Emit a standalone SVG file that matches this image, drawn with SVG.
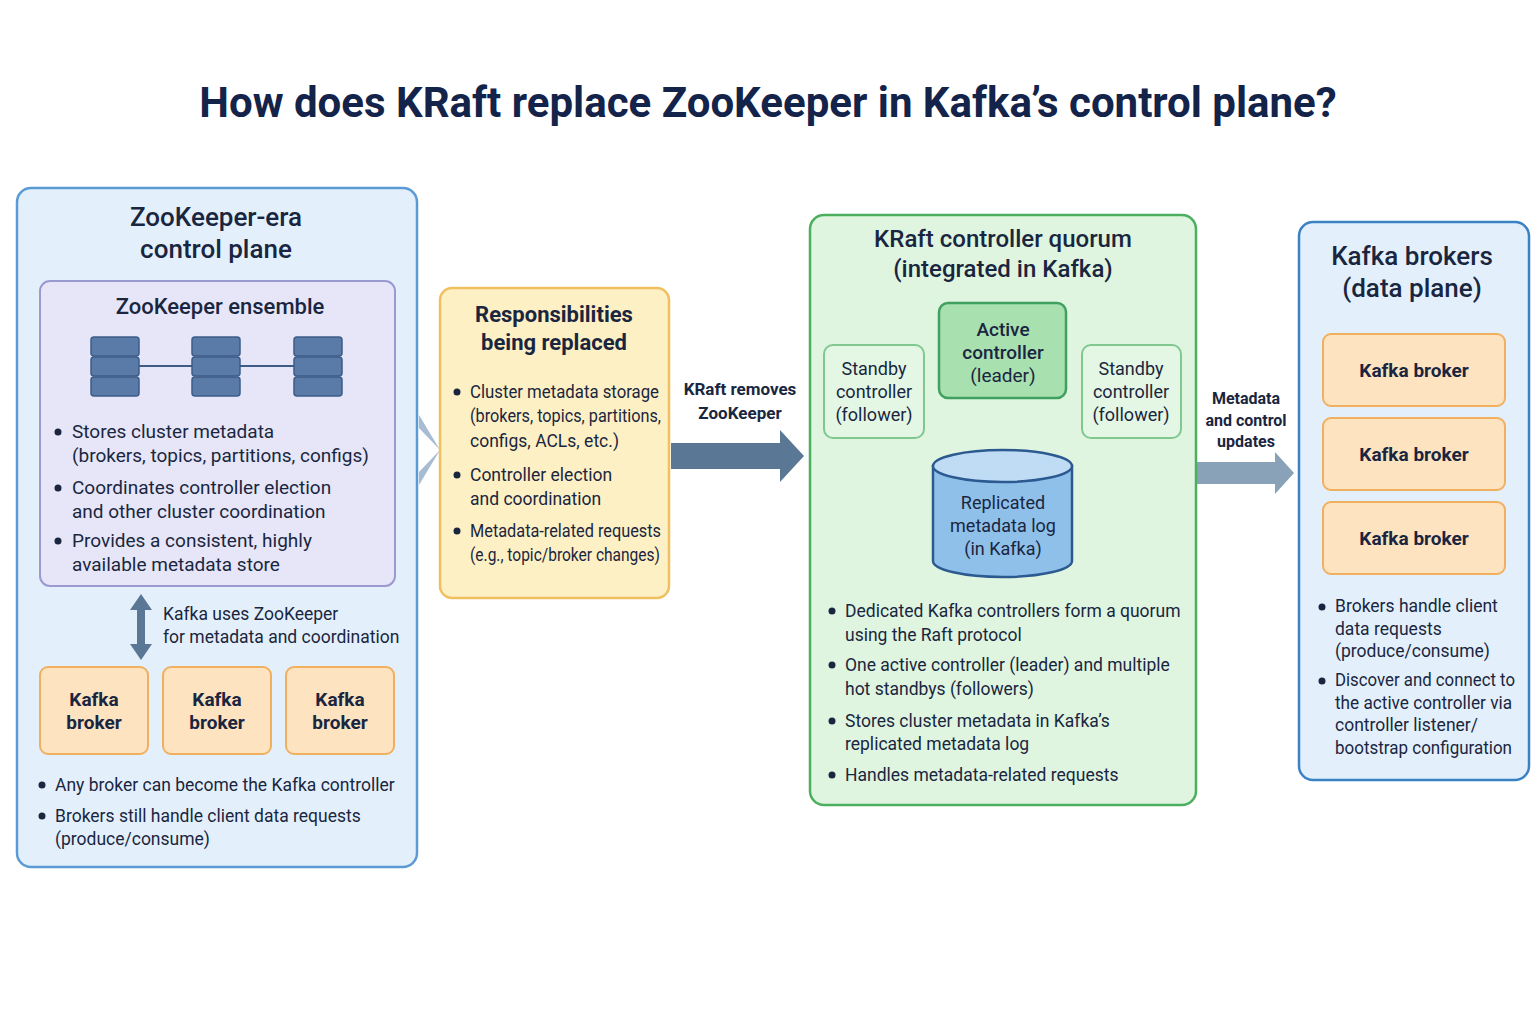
<svg xmlns="http://www.w3.org/2000/svg" width="1536" height="1024" viewBox="0 0 1536 1024">
<style>
text{font-family:Roboto,"Liberation Sans",sans-serif;fill:#1a2640}
.t{font-size:42px;font-weight:700;fill:#13234a}
.h{font-size:26px;font-weight:500;text-anchor:middle}
.b{font-size:19px}
.s{font-size:17.5px}
.bb{font-size:19px;font-weight:700;text-anchor:middle}
.c{font-size:19px;text-anchor:middle}
.al{font-size:17px;font-weight:700;text-anchor:middle}
.brk{fill:#fde3c0;stroke:#f0b060;stroke-width:2}
.srv{fill:#5a7ba8;stroke:#3d5c88;stroke-width:1.5}
.ln{stroke:#1a2a48;stroke-width:2.5;fill:none}
</style>
<rect width="1536" height="1024" fill="#ffffff"/>
<text class="t" x="768" y="117" text-anchor="middle">How does KRaft replace ZooKeeper in Kafka’s control plane?</text>

<g id="zk-panel">
<rect x="17" y="188" width="400" height="679" rx="14" fill="#e3f0fc" stroke="#5b9bd5" stroke-width="2.5"/>
<text class="h" x="216" y="226">ZooKeeper-era</text>
<text class="h" x="216" y="258">control plane</text>
</g>
<g id="zk-ensemble">
<rect x="40" y="281" width="355" height="305" rx="10" fill="#e6e6f8" stroke="#9a9ad0" stroke-width="2"/>
<text class="h" x="220" y="314" style="font-size:22px">ZooKeeper ensemble</text>
<line x1="139" y1="366" x2="294" y2="366" stroke="#3d5c88" stroke-width="2"/>
<g><rect class="srv" x="91" y="337" width="48" height="19" rx="3"/><rect class="srv" x="91" y="357" width="48" height="19" rx="3"/><rect class="srv" x="91" y="377" width="48" height="19" rx="3"/></g>
<g><rect class="srv" x="192" y="337" width="48" height="19" rx="3"/><rect class="srv" x="192" y="357" width="48" height="19" rx="3"/><rect class="srv" x="192" y="377" width="48" height="19" rx="3"/></g>
<g><rect class="srv" x="294" y="337" width="48" height="19" rx="3"/><rect class="srv" x="294" y="357" width="48" height="19" rx="3"/><rect class="srv" x="294" y="377" width="48" height="19" rx="3"/></g>
<g class="b">
<circle cx="58" cy="432" r="3.5" fill="#1a2640"/><text class="b" x="72" y="438">Stores cluster metadata</text>
<text class="b" x="72" y="462">(brokers, topics, partitions, configs)</text>
<circle cx="58" cy="488" r="3.5" fill="#1a2640"/><text class="b" x="72" y="494">Coordinates controller election</text>
<text class="b" x="72" y="518">and other cluster coordination</text>
<circle cx="58" cy="541" r="3.5" fill="#1a2640"/><text class="b" x="72" y="547">Provides a consistent, highly</text>
<text class="b" x="72" y="571">available metadata store</text>
</g>
</g>
<g id="zk-uses">
<path d="M141 594 L152 610 L145 610 L145 644 L152 644 L141 660 L130 644 L137 644 L137 610 L130 610 Z" fill="#5a7896"/>
<text class="s" x="163" y="620">Kafka uses ZooKeeper</text>
<text class="s" x="163" y="643">for metadata and coordination</text>
</g>
<g id="zk-brokers">
<rect class="brk" x="40" y="667" width="108" height="87" rx="8"/><text class="bb" x="94" y="706">Kafka</text><text class="bb" x="94" y="729">broker</text>
<rect class="brk" x="163" y="667" width="108" height="87" rx="8"/><text class="bb" x="217" y="706">Kafka</text><text class="bb" x="217" y="729">broker</text>
<rect class="brk" x="286" y="667" width="108" height="87" rx="8"/><text class="bb" x="340" y="706">Kafka</text><text class="bb" x="340" y="729">broker</text>
<circle cx="42" cy="785" r="3.5" fill="#1a2640"/><text class="s" x="55" y="791">Any broker can become the Kafka controller</text>
<circle cx="42" cy="816" r="3.5" fill="#1a2640"/><text class="s" x="55" y="822">Brokers still handle client data requests</text>
<text class="s" x="55" y="845">(produce/consume)</text>
</g>

<g id="connectors">
<path d="M419 428 L419 472 L440 450 Z M419 415 L440 450 L419 485 Z" fill="#9db4cc" opacity="0.9"/>
<path d="M671 443 L780 443 L780 430 L804 456 L780 482 L780 469 L671 469 Z" fill="#5a7896"/>
<text class="al" x="740" y="395">KRaft removes</text>
<text class="al" x="740" y="419">ZooKeeper</text>
<path d="M1197 462 L1275 462 L1275 452 L1294 473 L1275 494 L1275 484 L1197 484 Z" fill="#8aa2b8"/>
<text class="al" x="1246" y="404" style="font-size:16px">Metadata</text>
<text class="al" x="1246" y="426" style="font-size:16px">and control</text>
<text class="al" x="1246" y="447" style="font-size:16px">updates</text>
<path class="ln" d="M1003 398 L1003 452"/>
<path class="ln" d="M875 438 L875 468 L935 468"/>
<path class="ln" d="M1131 438 L1131 468 L1071 468"/>
</g>

<g id="responsibilities">
<rect x="440" y="288" width="229" height="310" rx="12" fill="#fdf0c4" stroke="#f0c060" stroke-width="2.5"/>
<text class="h" x="554" y="322" style="font-size:22px;font-weight:700">Responsibilities</text>
<text class="h" x="554" y="350" style="font-size:22px;font-weight:700">being replaced</text>
<circle cx="457" cy="392" r="3.5" fill="#1a2640"/><text class="s" x="470" y="398" textLength="189" lengthAdjust="spacingAndGlyphs">Cluster metadata storage</text>
<text class="s" x="470" y="422" textLength="191" lengthAdjust="spacingAndGlyphs">(brokers, topics, partitions,</text>
<text class="s" x="470" y="447">configs, ACLs, etc.)</text>
<circle cx="457" cy="475" r="3.5" fill="#1a2640"/><text class="s" x="470" y="481">Controller election</text>
<text class="s" x="470" y="505">and coordination</text>
<circle cx="457" cy="531" r="3.5" fill="#1a2640"/><text class="s" x="470" y="537" textLength="191" lengthAdjust="spacingAndGlyphs">Metadata-related requests</text>
<text class="s" x="470" y="561" textLength="190" lengthAdjust="spacingAndGlyphs">(e.g., topic/broker changes)</text>
</g>

<g id="kraft-panel">
<rect x="810" y="215" width="386" height="590" rx="14" fill="#dff5e0" stroke="#4caf60" stroke-width="2.5"/>
<text class="h" x="1003" y="247" style="font-size:24px">KRaft controller quorum</text>
<text class="h" x="1003" y="277" style="font-size:24px">(integrated in Kafka)</text>
<circle cx="832" cy="611" r="3.5" fill="#1a2640"/><text class="s" x="845" y="617">Dedicated Kafka controllers form a quorum</text>
<text class="s" x="845" y="641">using the Raft protocol</text>
<circle cx="832" cy="665" r="3.5" fill="#1a2640"/><text class="s" x="845" y="671">One active controller (leader) and multiple</text>
<text class="s" x="845" y="695">hot standbys (followers)</text>
<circle cx="832" cy="721" r="3.5" fill="#1a2640"/><text class="s" x="845" y="727">Stores cluster metadata in Kafka’s</text>
<text class="s" x="845" y="750">replicated metadata log</text>
<circle cx="832" cy="775" r="3.5" fill="#1a2640"/><text class="s" x="845" y="781">Handles metadata-related requests</text>
</g>
<g id="active-controller">
<rect x="939" y="303" width="127" height="95" rx="9" fill="#a8e0b0" stroke="#3fa060" stroke-width="2.5"/>
<text class="bb" x="1003" y="336" style="font-weight:500">Active</text>
<text class="bb" x="1003" y="359" style="font-weight:500">controller</text>
<text class="c" x="1003" y="382">(leader)</text>
</g>
<g id="standby-left">
<rect x="824" y="345" width="100" height="93" rx="9" fill="#e4f7e4" stroke="#80c890" stroke-width="2"/>
<text class="c" x="874" y="375" style="font-size:18px">Standby</text>
<text class="c" x="874" y="398" style="font-size:18px">controller</text>
<text class="c" x="874" y="421" style="font-size:18px">(follower)</text>
</g>
<g id="standby-right">
<rect x="1082" y="345" width="99" height="93" rx="9" fill="#e4f7e4" stroke="#80c890" stroke-width="2"/>
<text class="c" x="1131" y="375" style="font-size:18px">Standby</text>
<text class="c" x="1131" y="398" style="font-size:18px">controller</text>
<text class="c" x="1131" y="421" style="font-size:18px">(follower)</text>
</g>
<g id="metadata-log">
<path d="M933 466 L933 561 A69.5 16 0 0 0 1072 561 L1072 466 Z" fill="#8fc0ea" stroke="#2c5a90" stroke-width="2.5"/>
<ellipse cx="1002.5" cy="466" rx="69.5" ry="16" fill="#c0dcf5" stroke="#2c5a90" stroke-width="2.5"/>
<text class="c" x="1003" y="509" style="font-size:18px">Replicated</text>
<text class="c" x="1003" y="532" style="font-size:18px">metadata log</text>
<text class="c" x="1003" y="555" style="font-size:18px">(in Kafka)</text>
</g>

<g id="brokers-panel">
<rect x="1299" y="222" width="230" height="558" rx="14" fill="#e3f0fc" stroke="#3b82c4" stroke-width="2.5"/>
<text class="h" x="1412" y="265">Kafka brokers</text>
<text class="h" x="1412" y="297">(data plane)</text>
<rect class="brk" x="1323" y="334" width="182" height="72" rx="8"/><text class="bb" x="1414" y="377">Kafka broker</text>
<rect class="brk" x="1323" y="418" width="182" height="72" rx="8"/><text class="bb" x="1414" y="461">Kafka broker</text>
<rect class="brk" x="1323" y="502" width="182" height="72" rx="8"/><text class="bb" x="1414" y="545">Kafka broker</text>
<circle cx="1322" cy="607" r="3.5" fill="#1a2640"/><text class="s" x="1335" y="612">Brokers handle client</text>
<text class="s" x="1335" y="635">data requests</text>
<text class="s" x="1335" y="657">(produce/consume)</text>
<circle cx="1322" cy="681" r="3.5" fill="#1a2640"/><text class="s" x="1335" y="686" textLength="180" lengthAdjust="spacingAndGlyphs">Discover and connect to</text>
<text class="s" x="1335" y="709" textLength="177" lengthAdjust="spacingAndGlyphs">the active controller via</text>
<text class="s" x="1335" y="731">controller listener/</text>
<text class="s" x="1335" y="754" textLength="177" lengthAdjust="spacingAndGlyphs">bootstrap configuration</text>
</g>
</svg>
